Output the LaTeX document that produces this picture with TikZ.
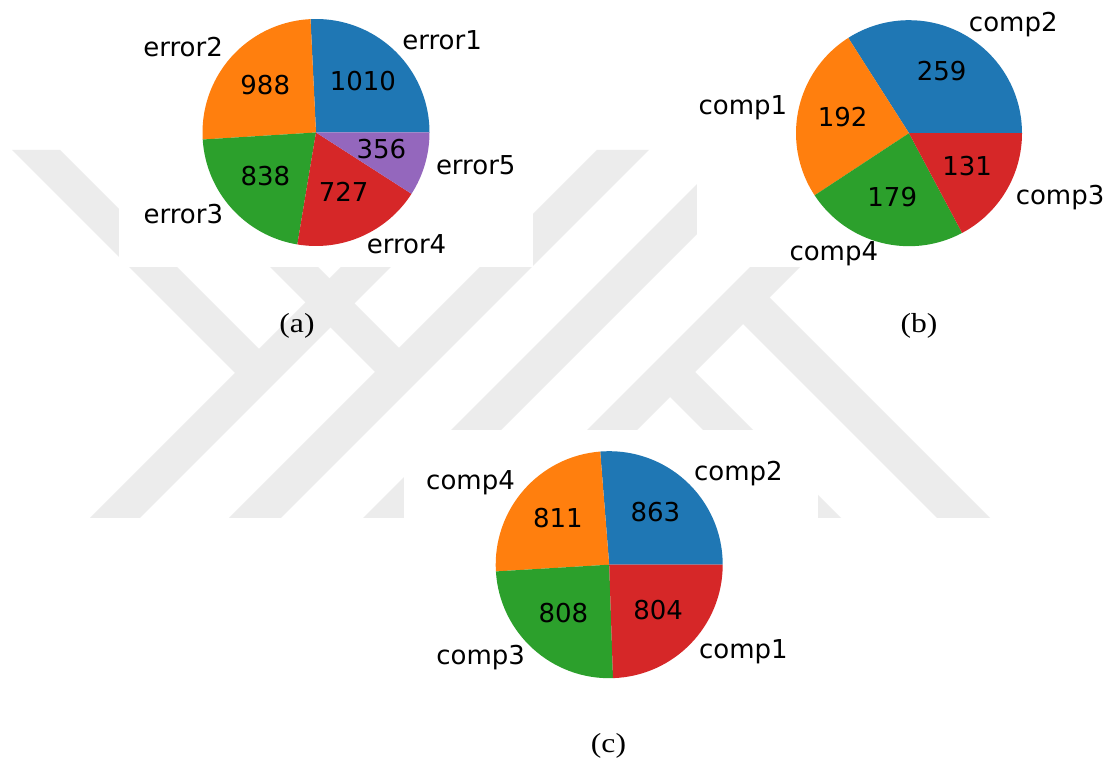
\documentclass[tikz,border=0pt]{standalone}
\usepackage{fontspec}
\usepackage{graphicx}
\setmainfont{DejaVu Sans}
\newfontfamily\capfont{Liberation Serif}
\usetikzlibrary{calc}
\definecolor{tabblue}{RGB}{31,119,180}
\definecolor{taborange}{RGB}{255,127,14}
\definecolor{tabgreen}{RGB}{44,160,44}
\definecolor{tabred}{RGB}{214,39,40}
\definecolor{tabpurple}{RGB}{148,103,189}
\definecolor{wmgray}{RGB}{236,236,236}
\newcommand{\capwide}[1]{\scalebox{1.15}[1]{#1}}
\tikzset{
  wm/.style={fill=wmgray, draw=none},
  cover/.style={fill=white, draw=none},
  lbl/.style={font=\fontsize{26}{30}\selectfont, inner sep=0pt, text height=19.8pt, text depth=5.4pt},
  num/.style={lbl, anchor=center},
  lblr/.style={lbl, anchor=west},
  lbll/.style={lbl, anchor=east},
  captxt/.style={font=\capfont\fontsize{27.5}{34}\selectfont, inner sep=0pt, anchor=base},
}
\begin{document}
\begin{tikzpicture}[x=1pt,y=1pt]
\useasboundingbox (0,0) rectangle (1110,762);
\fill[white] (0,0) rectangle (1110,762);
% watermark (image coordinates, y downwards)
\begin{scope}[shift={(0,762)}, yscale=-1]
  \fill[wm] (458,150) -- (508,150) -- (140,518) -- (90,518) -- cycle;
  \fill[wm] (597,150) -- (649,150) -- (281,518) -- (229,518) -- cycle;
  \fill[wm] (731,150) -- (781,150) -- (413,518) -- (363,518) -- cycle;
  \fill[wm] (12,150) -- (60,150) -- (271.5,361.5) -- (247.5,385.5) -- cycle;
  \fill[wm] (153,150) -- (201,150) -- (412,361) -- (388,385) -- cycle;
  \fill[wm] (867,150) -- (917,150) -- (549,518) -- (499,518) -- cycle;
  \fill[wm] (757,285) -- (990,518) -- (937,518) -- (730.5,311.5) -- cycle;
  \fill[wm] (682.5,359.5) -- (841,518) -- (791,518) -- (657.5,384.5) -- cycle;
  % white panels of the three charts
  \fill[cover] (118.5,0) rectangle (532.6,267);
  \fill[cover] (697,0) rectangle (1110,267);
  \fill[cover] (404,430) rectangle (818,762);
\end{scope}

% ---------------- (a) ----------------
\coordinate (A) at (316,629.5);
\fill[tabblue]   (A) -- ++(0:113.5)       arc[start angle=0,       end angle=92.779,  radius=113.5] -- cycle;
\fill[taborange] (A) -- ++(92.779:113.5)  arc[start angle=92.779,  end angle=183.537, radius=113.5] -- cycle;
\fill[tabgreen]  (A) -- ++(183.537:113.5) arc[start angle=183.537, end angle=260.516, radius=113.5] -- cycle;
\fill[tabred]    (A) -- ++(260.516:113.5) arc[start angle=260.516, end angle=327.298, radius=113.5] -- cycle;
\fill[tabpurple] (A) -- ++(327.298:113.5) arc[start angle=327.298, end angle=360,     radius=113.5] -- cycle;
\node[num]  (an1) at ($(A)+(46.389:68.1)$)  {1010};
\node[num]  (an2) at ($(A)+(138.158:68.1)$) {988};
\node[num]  (an3) at ($(A)+(222.027:68.1)$) {838};
\node[num]  (an4) at ($(A)+(293.907:68.1)$) {727};
\node[num]  (an5) at ($(A)+(343.649:68.1)$) {356};
\node[lblr] (al1) at ($(A)+(46.389:124.85)$)  {error1};
\node[lbll] (al2) at ($(A)+(138.158:124.85)$) {error2};
\node[lbll] (al3) at ($(A)+(222.027:124.85)$) {error3};
\node[lblr] (al4) at ($(A)+(293.907:124.85)$) {error4};
\node[lblr] (al5) at ($(A)+(343.649:124.85)$) {error5};
\node[captxt] (capa) at (297,429) {\capwide{(a)}};

% ---------------- (b) ----------------
\coordinate (B) at (909,628.8);
\fill[tabblue]   (B) -- ++(0:113)       arc[start angle=0,       end angle=122.523, radius=113] -- cycle;
\fill[taborange] (B) -- ++(122.523:113) arc[start angle=122.523, end angle=213.351, radius=113] -- cycle;
\fill[tabgreen]  (B) -- ++(213.351:113) arc[start angle=213.351, end angle=298.029, radius=113] -- cycle;
\fill[tabred]    (B) -- ++(298.029:113) arc[start angle=298.029, end angle=360,     radius=113] -- cycle;
\node[num]  (bn1) at ($(B)+(61.261:67.8)$)  {259};
\node[num]  (bn2) at ($(B)+(167.937:67.8)$) {192};
\node[num]  (bn3) at ($(B)+(255.690:67.8)$) {179};
\node[num]  (bn4) at ($(B)+(329.015:67.8)$) {131};
\node[lblr] (bl1) at ($(B)+(61.261:124.3)$)  {comp2};
\node[lbll] (bl2) at ($(B)+(167.937:124.3)$) {comp1};
\node[lbll] (bl3) at ($(B)+(255.690:124.3)$) {comp4};
\node[lblr] (bl4) at ($(B)+(329.015:124.3)$) {comp3};
\node[captxt] (capb) at (919,429) {\capwide{(b)}};

% ---------------- (c) ----------------
\coordinate (C) at (609.2,197.3);
\fill[tabblue]   (C) -- ++(0:113.5)       arc[start angle=0,       end angle=94.547,  radius=113.5] -- cycle;
\fill[taborange] (C) -- ++(94.547:113.5)  arc[start angle=94.547,  end angle=183.397, radius=113.5] -- cycle;
\fill[tabgreen]  (C) -- ++(183.397:113.5) arc[start angle=183.397, end angle=271.918, radius=113.5] -- cycle;
\fill[tabred]    (C) -- ++(271.918:113.5) arc[start angle=271.918, end angle=360,     radius=113.5] -- cycle;
\node[num]  (cn1) at ($(C)+(47.273:68.1)$)  {863};
\node[num]  (cn2) at ($(C)+(138.972:68.1)$) {811};
\node[num]  (cn3) at ($(C)+(227.657:68.1)$) {808};
\node[num]  (cn4) at ($(C)+(315.959:68.1)$) {804};
\node[lblr] (cl1) at ($(C)+(47.273:124.85)$)  {comp2};
\node[lbll] (cl2) at ($(C)+(138.972:124.85)$) {comp4};
\node[lbll] (cl3) at ($(C)+(227.657:124.85)$) {comp3};
\node[lblr] (cl4) at ($(C)+(315.959:124.85)$) {comp1};
\node[captxt] (capc) at (608.5,9) {\capwide{(c)}};
\end{tikzpicture}
\end{document}
